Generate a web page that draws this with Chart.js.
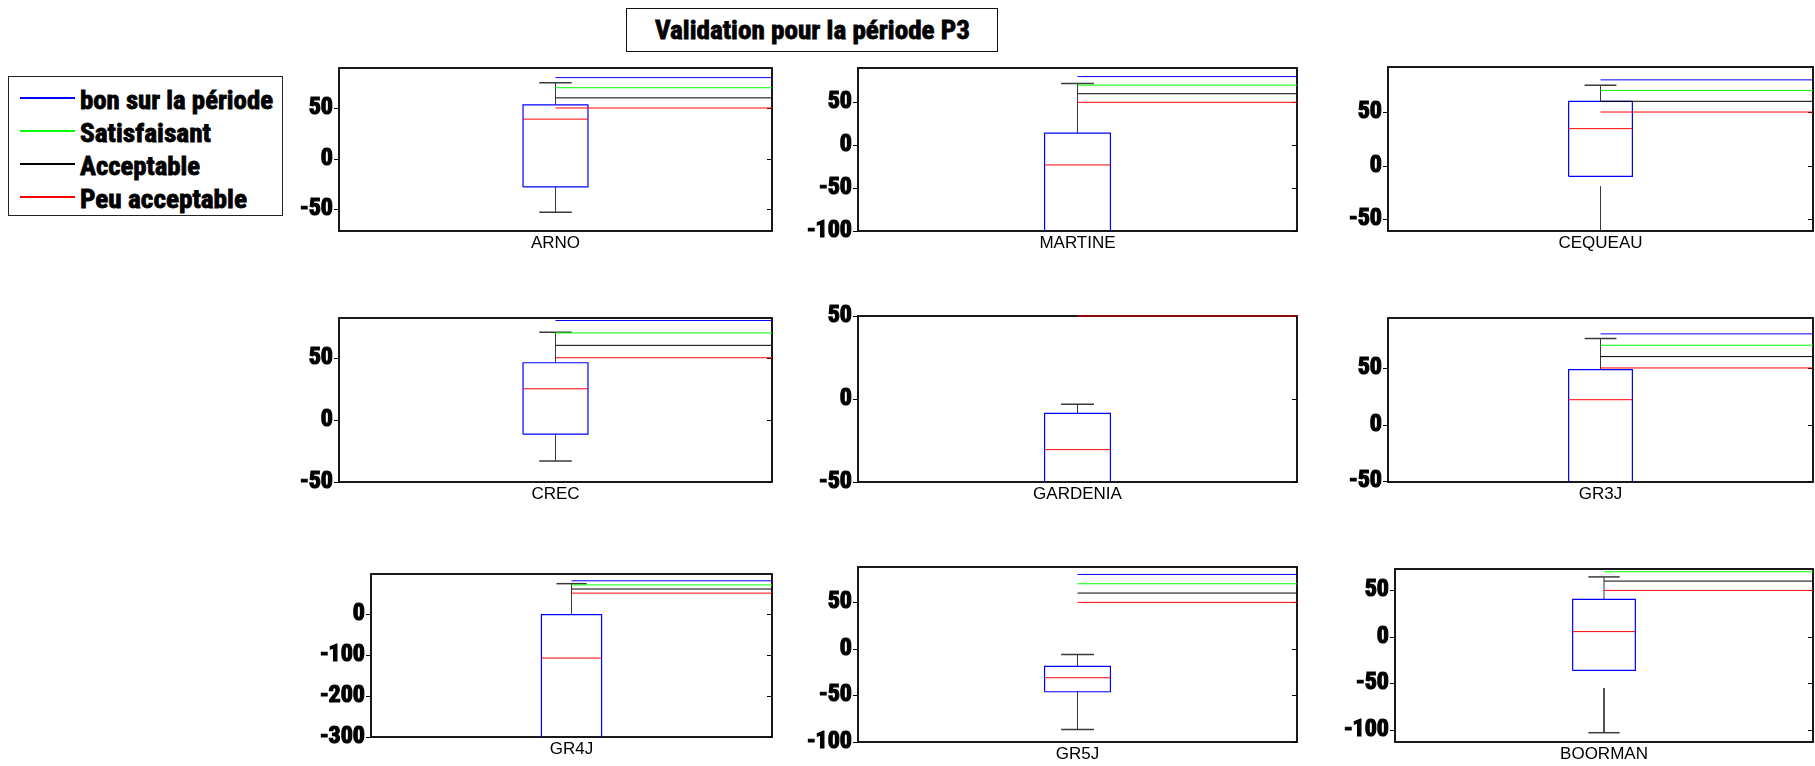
<!DOCTYPE html>
<html lang="fr">
<head>
<meta charset="utf-8">
<title>Validation pour la période P3</title>
<script src="https://cdn.jsdelivr.net/npm/chart.js@4.4.1/dist/chart.umd.min.js"></script>
<style>
  html, body { margin: 0; padding: 0; background: #fff; }
  body { width: 1815px; height: 766px; position: relative; overflow: hidden; }
  .gras { font-family: 'Roboto Condensed', 'Open Sans Condensed', 'Liberation Sans Narrow', 'DejaVu Sans', sans-serif; font-weight: bold; font-stretch: condensed; color: #000; white-space: nowrap; -webkit-text-stroke: 0.8px #000; }
  #titre { position: absolute; left: 626px; top: 8px; width: 372px; height: 44px; box-sizing: border-box; border: 1px solid #111; }
  #titre span { position: absolute; left: 0; top: 0; font-size: 26px; line-height: 42px; transform-origin: 0 50%; }
  #legende { position: absolute; left: 8px; top: 76px; width: 275px; height: 140px; box-sizing: border-box; border: 1.5px solid #222; }
  .trait { position: absolute; left: 11px; width: 55px; height: 1.5px; }
  .libelle { position: absolute; left: 71px; font-size: 26px; line-height: 30px; transform-origin: 0 50%; }
  canvas { position: absolute; }
</style>
</head>
<body>
<div id="titre"><span class="gras">Validation pour la période P3</span></div>
<div id="legende"></div>
<script>
// Modèles évalués et statistiques des boîtes à moustaches
const modeles = ['ARNO', 'MARTINE', 'CEQUEAU', 'CREC', 'GARDENIA', 'GR3J', 'GR4J', 'GR5J', 'BOORMAN'];
const quartileBas   = [-28,  -130, -10,  -11.5, -60,  -55,   -330,  -46,   -36];
const mediane       = [39,   -23,   34.5, 25,   -30.5, 22,   -108,  -31,   5.7];
const quartileHaut  = [53,    14,   60,   46,   -8.7,  48.5, -2.5,  -18.7, 40.3];
const moustacheHaut = [75,    72,   75,   70.5, -3.2,  76,    73,   -6,    64.5];
const moustacheBas  = [-53,  -200, -75,  -33,  -70,   -70,  -400,  -86.5, -103];
// début visible du trait inférieur (null : part du quartile bas)
const departBas     = [null, null, -19.5, null, null, null, null,  null,  -55];

// Seuils de qualité
const seuils = [80, 70, 60, 50];
const nomsSeuils = ['bon sur la période', 'Satisfaisant', 'Acceptable', 'Peu acceptable'];
const couleursSeuils = ['#0000ff', '#00ff00', '#000000', '#ff0000'];

// Bornes et graduations de l'axe vertical de chaque graphique
const yMin = [-71.5, -100, -61, -50, -50, -50.5, -300, -100, -113];
const yMax = [89.5,   90,   92,  82,  50,  94,    96.5,  88,   73];
const graduations = [
  [50, 0, -50], [50, 0, -50, -100], [50, 0, -50],
  [50, 0, -50], [50, 0, -50],       [50, 0, -50],
  [0, -100, -200, -300], [50, 0, -50, -100], [50, 0, -50, -100]
];

// Zone de tracé de chaque graphique dans la page : [gauche, haut, droite, bas]
const zones = [
  [339, 68, 772, 231],  [858, 68, 1297, 231],  [1388, 67, 1813, 231],
  [339, 318, 772, 482], [858, 316, 1297, 482], [1388, 318, 1813, 482],
  [371, 574, 772, 737], [858, 567, 1297, 742], [1395, 569, 1813, 742]
];

const ML = 72, MT = 24, MB = 26;
const DEMI_BOITE = 0.075, DEMI_CHAPEAU = 0.0375;
const policeGraduations = "'Roboto Condensed', 'Open Sans Condensed', 'Liberation Sans Narrow', 'DejaVu Sans', sans-serif";

// Légende
const largeursLibelles = [193, 131, 120, 167];
const yLegende = [20, 53, 86, 119];
const leg = document.getElementById('legende');
nomsSeuils.forEach((nom, k) => {
  const t = document.createElement('div');
  t.className = 'trait';
  t.style.top = yLegende[k] + 'px';
  t.style.background = couleursSeuils[k];
  leg.appendChild(t);
  const l = document.createElement('div');
  l.className = 'libelle gras';
  l.textContent = nom;
  l.style.top = (yLegende[k] - 12) + 'px';
  leg.appendChild(l);
  const w = l.getBoundingClientRect().width;
  l.style.transform = 'scaleX(' + (largeursLibelles[k] / w) + ')';
});

// Titre
(function () {
  const s = document.querySelector('#titre span');
  const w = s.getBoundingClientRect().width;
  const cible = 315;
  s.style.left = ((372 - 2 - cible) / 2) + 'px';
  s.style.transform = 'scaleX(' + (cible / w) + ')';
})();

// Cadre noir et graduations, tracés sous les courbes
const cadre = {
  id: 'cadre',
  beforeDatasetsDraw(chart) {
    const { ctx, chartArea: a, scales: { y } } = chart;
    ctx.save();
    ctx.strokeStyle = '#000';
    ctx.lineWidth = 1;
    y.ticks.forEach(t => {
      const py = Math.round(y.getPixelForValue(t.value)) + 0.5;
      ctx.beginPath();
      ctx.moveTo(a.left - 5, py); ctx.lineTo(a.left, py);
      ctx.moveTo(a.right - 5, py); ctx.lineTo(a.right, py);
      ctx.stroke();
    });
    ctx.lineWidth = 1.8;
    ctx.strokeRect(a.left, a.top, a.right - a.left, a.bottom - a.top);
    ctx.restore();
  }
};

function segment(points, couleur, epaisseur, clip) {
  const ds = {
    data: points, showLine: true, borderColor: couleur, borderWidth: epaisseur,
    pointRadius: 0, pointHoverRadius: 0, fill: false, tension: 0
  };
  if (clip) ds.clip = clip;
  return ds;
}

modeles.forEach((nom, i) => {
  const [g, h, d, b] = zones[i];
  const MR = d > 1800 ? 2 : 10;
  const c = document.createElement('canvas');
  const W = d - g + ML + MR, H = b - h + MT + MB;
  c.width = W; c.height = H;
  c.style.left = (g - ML) + 'px';
  c.style.top = (h - MT) + 'px';
  c.style.width = W + 'px';
  c.style.height = H + 'px';
  document.body.appendChild(c);

  const datasets = [];
  seuils.forEach((s, k) => {
    datasets.push(segment([{ x: 1, y: s }, { x: 2, y: s }], couleursSeuils[k], 1,
      { left: 0, top: 2, right: 0, bottom: 0 }));
  });
  const x0 = 1 - DEMI_BOITE, x1 = 1 + DEMI_BOITE;
  datasets.push(segment([{ x: x0, y: mediane[i] }, { x: x1, y: mediane[i] }], '#ff0000', 1));
  datasets.push(segment([
    { x: x0, y: quartileBas[i] }, { x: x1, y: quartileBas[i] },
    { x: x1, y: quartileHaut[i] }, { x: x0, y: quartileHaut[i] },
    { x: x0, y: quartileBas[i] }
  ], '#0000ff', 1.2));
  const gris = '#3a3a3a';
  datasets.push(segment([{ x: 1, y: quartileHaut[i] }, { x: 1, y: moustacheHaut[i] }], gris, 1));
  datasets.push(segment([{ x: 1 - DEMI_CHAPEAU, y: moustacheHaut[i] }, { x: 1 + DEMI_CHAPEAU, y: moustacheHaut[i] }], gris, 1.5));
  const dep = departBas[i] === null ? quartileBas[i] : departBas[i];
  datasets.push(segment([{ x: 1, y: dep }, { x: 1, y: moustacheBas[i] }], gris, 1));
  datasets.push(segment([{ x: 1 - DEMI_CHAPEAU, y: moustacheBas[i] }, { x: 1 + DEMI_CHAPEAU, y: moustacheBas[i] }], gris, 1.5));

  new Chart(c, {
    type: 'scatter',
    data: { datasets },
    plugins: [cadre],
    options: {
      responsive: false,
      animation: false,
      devicePixelRatio: 1,
      layout: { padding: { top: MT, right: MR, left: 0, bottom: 0 } },
      plugins: { legend: { display: false }, tooltip: { enabled: false } },
      events: [],
      scales: {
        x: {
          type: 'linear', min: 0.5, max: 1.5,
          grid: { display: false, drawTicks: false }, border: { display: false },
          afterBuildTicks: s => { s.ticks = [{ value: 1 }]; },
          afterFit: s => { s.height = MB; },
          ticks: {
            callback: () => nom, color: '#000', padding: 2, maxRotation: 0,
            font: { family: "'Liberation Sans', Arial, sans-serif", size: 17 }
          }
        },
        y: {
          type: 'linear', min: yMin[i], max: yMax[i],
          grid: { display: false, drawTicks: false }, border: { display: false },
          afterBuildTicks: s => { s.ticks = graduations[i].map(v => ({ value: v })); },
          afterFit: s => { s.width = ML; },
          ticks: {
            callback: v => String(v), color: '#000', padding: 6, autoSkip: false,
            textStrokeColor: '#000', textStrokeWidth: 1.2,
            font: { family: policeGraduations, weight: 'bold', size: 24 }
          }
        }
      }
    }
  });
});
</script>
</body>
</html>
